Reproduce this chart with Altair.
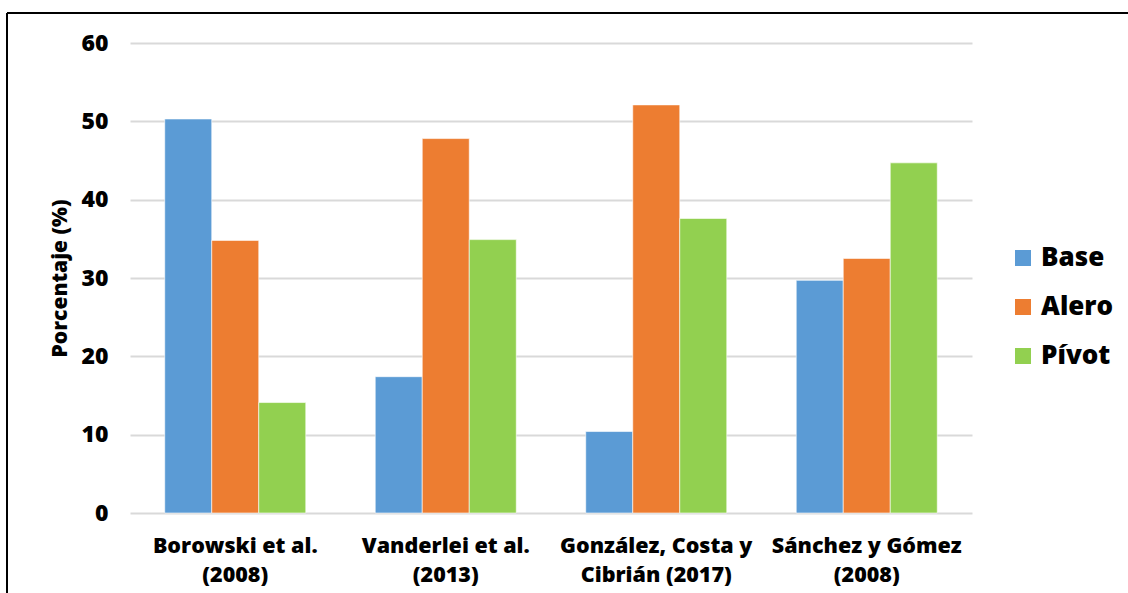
import altair as alt
import pandas as pd

# Study groups (line breaks mark the two-line axis labels)
categories = [
    "Borowski et al.\n(2008)",
    "Vanderlei et al.\n(2013)",
    "González, Costa y\nCibrián (2017)",
    "Sánchez y Gómez\n(2008)",
]
positions = ["Base", "Alero", "Pívot"]

base_vals = [50.3, 17.4, 10.4, 29.7]
alero_vals = [34.8, 47.8, 52.1, 32.5]
pivot_vals = [14.1, 34.9, 37.6, 44.7]

colors = ["#5b9bd5", "#ed7d31", "#92d050"]

rows = []
for series, vals in zip(positions, [base_vals, alero_vals, pivot_vals]):
    for cat, v in zip(categories, vals):
        rows.append({"estudio": cat, "posicion": series, "porcentaje": v})
df = pd.DataFrame(rows)

FONT = "Open Sans"
HEAVY = 800

bars = alt.Chart(df).mark_bar(stroke="white", strokeWidth=0.6).encode(
    x=alt.X(
        "estudio:N",
        sort=categories,
        scale=alt.Scale(paddingInner=0.33, paddingOuter=0.165),
        axis=alt.Axis(
            title=None,
            labelAngle=0,
            labelExpr="split(datum.label, '\\n')",
            labelFont=FONT,
            labelFontSize=21.5,
            labelFontWeight=HEAVY,
            labelColor="black",
            labelPadding=22,
            labelLineHeight=29,
            labelLimit=400,
            labelOverlap=False,
            ticks=False,
            domain=False,
        ),
    ),
    xOffset=alt.XOffset("posicion:N", sort=positions),
    y=alt.Y(
        "porcentaje:Q",
        scale=alt.Scale(domain=[0, 60]),
        axis=alt.Axis(
            title="Porcentaje (%)",
            titleFont=FONT,
            titleFontSize=21,
            titleFontWeight=HEAVY,
            titleColor="black",
            titlePadding=11,
            values=[0, 10, 20, 30, 40, 50, 60],
            labelFont=FONT,
            labelFontSize=23,
            labelFontWeight=HEAVY,
            labelColor="black",
            labelPadding=22,
            ticks=False,
            domain=False,
            grid=True,
            gridColor="#d9d9d9",
            gridWidth=2,
        ),
    ),
    color=alt.Color(
        "posicion:N",
        sort=positions,
        scale=alt.Scale(domain=positions, range=colors),
        legend=alt.Legend(
            title=None,
            orient="none",
            legendX=880,
            legendY=202,
            symbolType="square",
            symbolSize=256,
            symbolStrokeWidth=0,
            labelFont=FONT,
            labelFontSize=26,
            labelFontWeight=HEAVY,
            labelColor="black",
            labelOffset=5,
            rowPadding=23,
        ),
    ),
)

# Outer frame lines along the top and left of the figure
frame_df = pd.DataFrame({"k": [0]})
top_line = alt.Chart(frame_df).mark_rule(color="black", strokeWidth=2, clip=False).encode(
    x=alt.value(-123), x2=alt.value(998), y=alt.value(-30)
)
left_line = alt.Chart(frame_df).mark_rule(color="black", strokeWidth=2, clip=False).encode(
    x=alt.value(-123), y=alt.value(-30), y2=alt.value(560)
)

chart = (
    alt.layer(bars, top_line, left_line)
    .properties(
        width=842,
        height=470,
        autosize=alt.AutoSizeParams(type="none"),
        padding={"left": 130, "top": 43, "right": 156, "bottom": 80},
        background="white",
    )
    .configure_view(stroke=None)
)

chart.save("out.html", embed_options={"renderer": "svg", "actions": False})
